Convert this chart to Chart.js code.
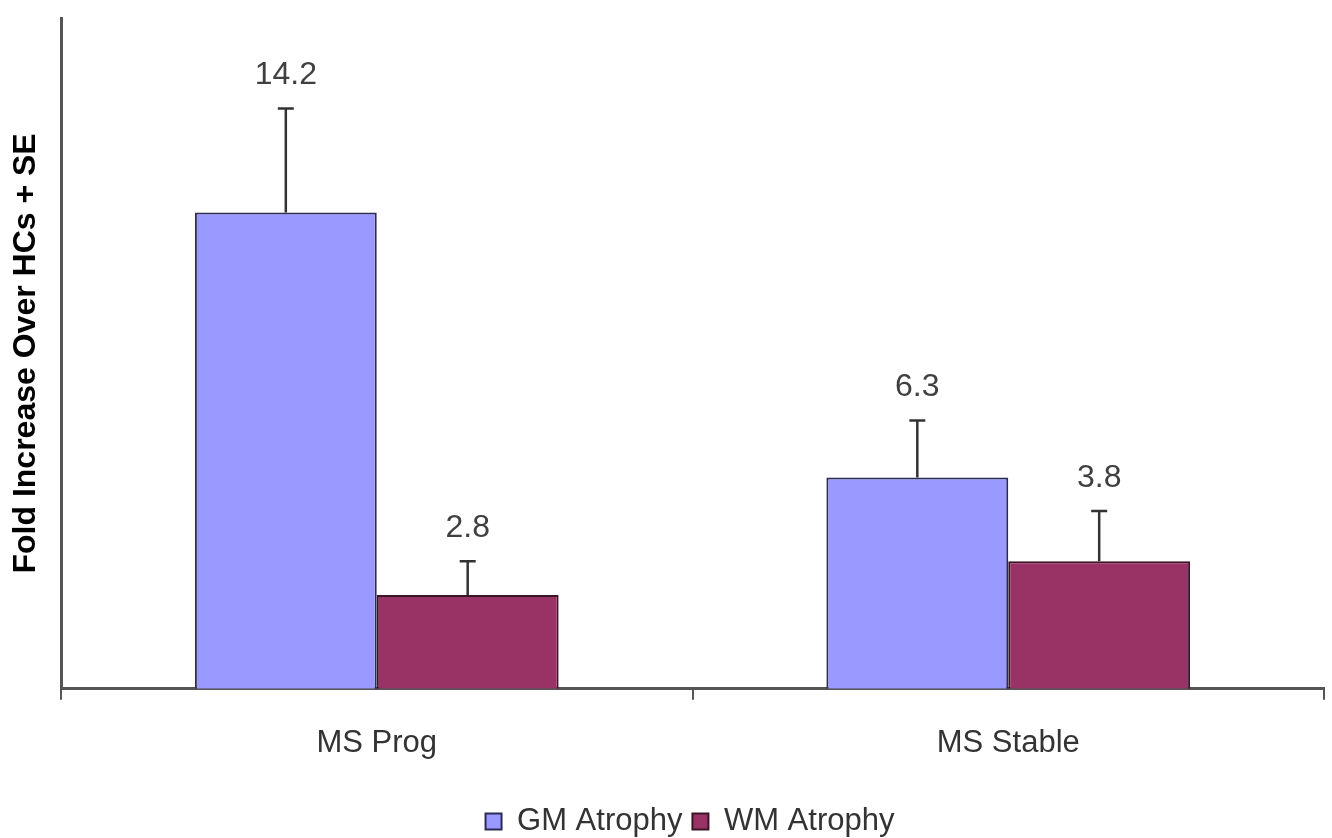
<!DOCTYPE html>
<html>
<head>
<meta charset="utf-8">
<script src="https://cdn.jsdelivr.net/npm/chart.js@4.4.1/dist/chart.umd.min.js"></script>
<style>
  html, body { margin: 0; padding: 0; background: #ffffff; }
  #wrap { width: 1332px; height: 838px; position: relative; }
</style>
</head>
<body>
<div id="wrap"><canvas id="c" width="1332" height="838"></canvas></div>
<script>
const categories = ['MS Prog', 'MS Stable'];
const gmValues = [14.2, 6.3];
const wmValues = [2.8, 3.8];
const gmSE = [3.1, 1.7];
const wmSE = [1.0, 1.5];
const seriesNames = ['GM Atrophy', 'WM Atrophy'];
const yMin = 0;
const yMax = 20;

const FONT = '"Liberation Sans", Arial, sans-serif';

const errorBarPlugin = {
  id: 'errorBars',
  afterDatasetsDraw(chart) {
    const ctx = chart.ctx;
    const yScale = chart.scales.y;
    chart.data.datasets.forEach((ds, di) => {
      const meta = chart.getDatasetMeta(di);
      meta.data.forEach((bar, i) => {
        const v = ds.data[i];
        const se = ds.se[i];
        const yTop = yScale.getPixelForValue(v + se);
        const yBase = yScale.getPixelForValue(v);
        const x = bar.x;
        ctx.save();
        ctx.strokeStyle = '#333333';
        ctx.lineWidth = 2.5;
        ctx.beginPath();
        ctx.moveTo(x, yBase);
        ctx.lineTo(x, yTop);
        ctx.moveTo(x - 8, yTop);
        ctx.lineTo(x + 8, yTop);
        ctx.stroke();
        ctx.fillStyle = '#404040';
        ctx.font = '32px ' + FONT;
        ctx.textAlign = 'center';
        ctx.textBaseline = 'middle';
        ctx.fillText(v.toFixed(1), x, yTop - 33);
        ctx.restore();
      });
    });
  }
};

const legendShiftPlugin = {
  id: 'legendShift',
  afterLayout(chart) {
    const lg = chart.legend;
    if (!lg) return;
    lg.left += 28; lg.right += 28;
    lg.top += 9; lg.bottom += 9;
  }
};

new Chart(document.getElementById('c'), {
  type: 'bar',
  data: {
    labels: categories,
    datasets: [
      {
        label: seriesNames[0],
        data: gmValues,
        se: gmSE,
        backgroundColor: '#9999FF',
        borderColor: '#2b2b55',
        borderWidth: 2,
        barPercentage: 1.0,
        categoryPercentage: 0.576
      },
      {
        label: seriesNames[1],
        data: wmValues,
        se: wmSE,
        backgroundColor: '#993366',
        borderColor: '#3a1526',
        borderWidth: 2,
        barPercentage: 1.0,
        categoryPercentage: 0.576
      }
    ]
  },
  options: {
    responsive: false,
    animation: false,
    devicePixelRatio: 1,
    layout: { padding: { top: 18, right: 8, bottom: 0, left: 0 } },
    plugins: {
      tooltip: { enabled: false },
      legend: {
        position: 'bottom',
        labels: {
          boxWidth: 16,
          boxHeight: 16,
          padding: 10,
          color: '#333333',
          font: { family: FONT, size: 31 }
        }
      }
    },
    scales: {
      x: {
        grid: {
          display: true,
          drawOnChartArea: false,
          drawTicks: true,
          tickLength: 11,
          offset: true,
          color: '#555555',
          lineWidth: 2
        },
        border: { display: true, color: '#555555', width: 3 },
        ticks: {
          color: '#333333',
          padding: 25,
          font: { family: FONT, size: 31 }
        },
        afterFit(scale) { scale.height += 0; }
      },
      y: {
        min: yMin,
        max: yMax,
        grid: { display: false },
        border: { display: true, color: '#555555', width: 3 },
        ticks: { display: false },
        title: {
          display: true,
          text: 'Fold Increase Over HCs + SE',
          color: '#000000',
          font: { family: FONT, size: 32, weight: 'bold' },
          padding: { top: 7, bottom: 0 }
        },
        afterFit(scale) { scale.width = 61; }
      }
    }
  },
  plugins: [errorBarPlugin, legendShiftPlugin]
});
</script>
</body>
</html>
